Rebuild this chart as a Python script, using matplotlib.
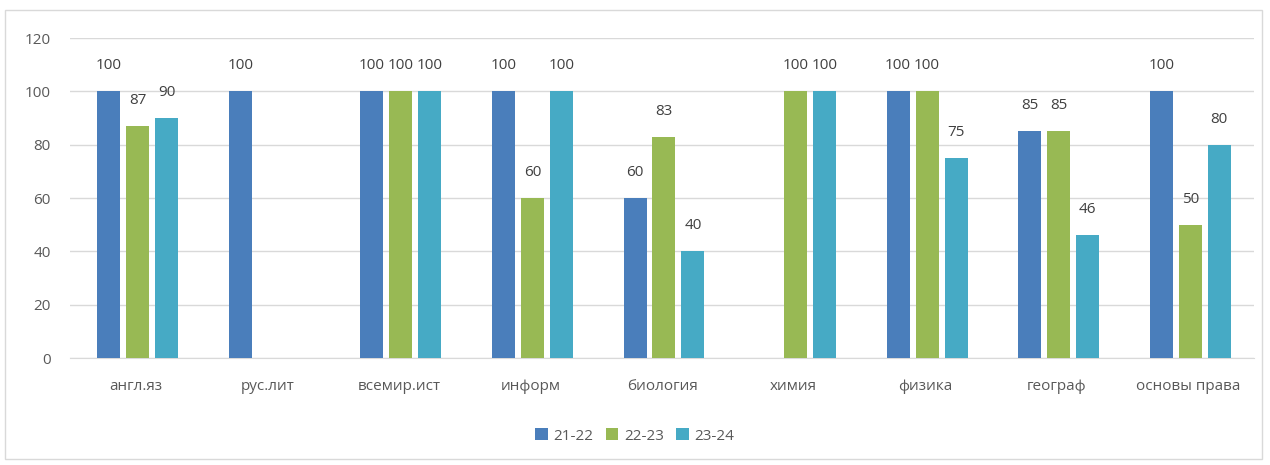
import numpy as np
import matplotlib
matplotlib.use("Agg")
import matplotlib.pyplot as plt
from matplotlib.patches import Rectangle

# Data
categories = ["англ.яз", "рус.лит", "всемир.ист", "информ", "биология",
              "химия", "физика", "географ", "основы права"]
series = ["21-22", "22-23", "23-24"]
v2122 = [100, 100, 100, 100, 60, None, 100, 85, 100]
v2223 = [87, None, 100, 60, 83, 100, 100, 85, 50]
v2324 = [90, None, 100, 100, 40, 100, 75, 46, 80]
colors = ["#4a7ebb", "#98b954", "#46aac5"]

plt.rcParams['font.family'] = ['Open Sans', 'DejaVu Sans']
txt = "#595959"

fig = plt.figure(figsize=(12.7, 4.65), dpi=100)
fig.patches.append(Rectangle((0.004, 0.012), 0.99, 0.966, transform=fig.transFigure,
                             fill=False, edgecolor="#d9d9d9", lw=1))
ax = fig.add_axes([70/1270, 1-358/465, 1184/1270, 320/465])

x = np.arange(len(categories))
width = 0.175
step = 0.22
for i, (vals, name) in enumerate(zip([v2122, v2223, v2324], series)):
    xs = [xi + (i-1)*step + 0.015 for xi, v in zip(x, vals) if v is not None]
    ys = [v for v in vals if v is not None]
    bars = ax.bar(xs, ys, width, color=colors[i], label=name, zorder=3)
    for b, v in zip(bars, ys):
        ax.annotate(str(v), (b.get_x()+b.get_width()/2, v), xytext=(0, 13),
                    textcoords="offset points", ha="center", va="bottom",
                    fontsize=11, color="#404040")

ax.set_xlim(-0.5, len(categories)-0.5)
ax.set_ylim(0, 120)
ax.set_yticks(range(0, 121, 20))
ax.set_xticks(x)
ax.set_xticklabels(categories)
ax.grid(axis="y", color="#d9d9d9", lw=1, zorder=0)
for s in ["top", "right", "left"]:
    ax.spines[s].set_visible(False)
ax.spines["bottom"].set_color("#d9d9d9")
ax.tick_params(length=0, colors=txt, labelsize=11)
ax.tick_params(axis="x", pad=15)
ax.tick_params(axis="y", pad=14)

fig.legend(loc="center", bbox_to_anchor=(0.5, 1-436/465), ncol=3, frameon=False,
           fontsize=11, labelcolor=txt, handlelength=0.8, handleheight=0.8,
           handletextpad=0.4, columnspacing=0.8)

fig.savefig("out.png", dpi=100, facecolor="white")
